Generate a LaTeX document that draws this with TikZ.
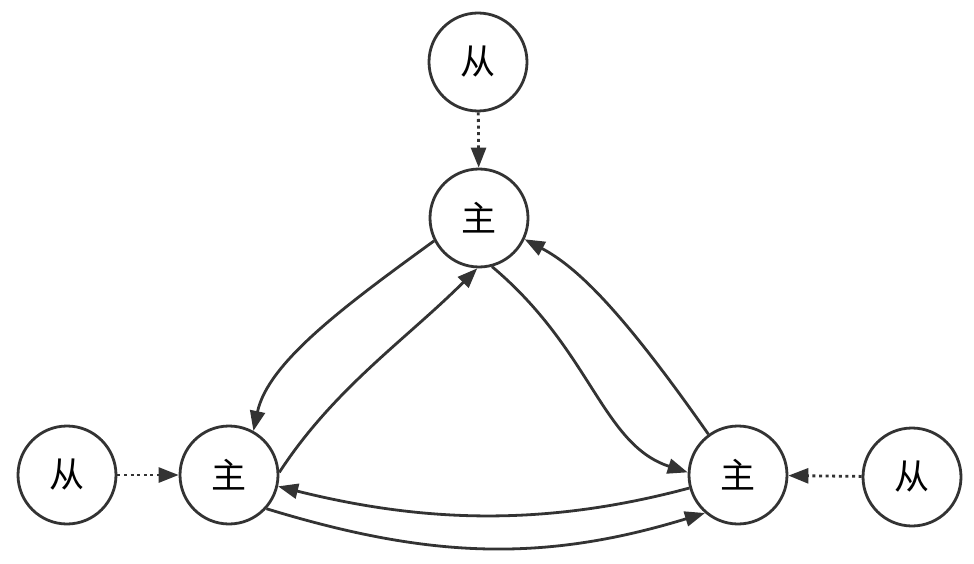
\documentclass[tikz,border=0pt]{standalone}
\usepackage{fontspec}
\newfontfamily\cjk{Noto Sans CJK SC}
\usetikzlibrary{arrows.meta}
\definecolor{linec}{HTML}{333333}
\begin{document}
\begin{tikzpicture}[x=1pt,y=1pt,
  nd/.style={circle, draw=linec, line width=2.8pt, fill=white, minimum size=98pt, inner sep=0pt, font=\cjk\fontsize{35}{35}\selectfont},
  conn/.style={draw=linec, line width=2.8pt, -{Triangle[length=20pt,width=15pt]}},
  dconn/.style={conn, dash pattern=on 3pt off 3.6pt}]
\useasboundingbox (0,0) rectangle (974,563);
\node[nd] (TS) at (478,501) {从};
\node[nd] (TM) at (479,345) {主};
\node[nd] (LS) at (67,88) {从};
\node[nd] (LM) at (229,88) {主};
\node[nd] (RM) at (738,88) {主};
\node[nd] (RS) at (912,86) {从};
\draw[dconn] (TS) -- (TM);
\draw[dconn] (LS) -- (LM);
\draw[dconn] (RS) -- (RM);
\draw[conn] (TM.207) .. controls +(216:110) and +(78:70) .. (LM.61);
\draw[conn] (LM.3) .. controls +(57:100) and +(225:100) .. (TM.268);
\draw[conn] (TM.285) .. controls +(-40:130) and +(162:90) .. (RM.177);
\draw[conn] (RM.126) .. controls +(125:150) and +(-28:60) .. (TM.335);
\draw[conn] (RM.195) .. controls +(195:150) and +(-14:150) .. (LM.347);
\draw[conn] (LM.318) .. controls +(-17:170) and +(197:170) .. (RM.229);
\end{tikzpicture}
\end{document}
